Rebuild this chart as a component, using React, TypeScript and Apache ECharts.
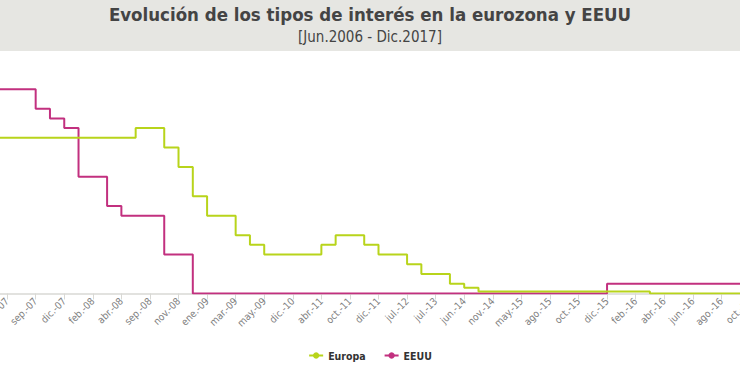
import React, { useEffect, useRef } from "react";
import * as echarts from "echarts";

const categories = [
  "jun.-06", "ago.-06", "oct.-06", "dic.-06", "mar.-07", "jun.-07", "jul.-07", "ago.-07",
  "sep.-07", "oct.-07", "dic.-07", "ene.-08", "feb.-08", "mar.-08", "abr.-08", "jul.-08",
  "sep.-08", "oct.-08", "nov.-08", "dic.-08", "ene.-09", "feb.-09", "mar.-09", "abr.-09",
  "may.-09", "dic.-09", "dic.-10", "feb.-11", "abr.-11", "jul.-11", "oct.-11", "nov.-11",
  "dic.-11", "mar.-12", "jul.-12", "may.-13", "jul.-13", "nov.-13", "jun.-14", "sep.-14",
  "nov.-14", "feb.-15", "may.-15", "jul.-15", "ago.-15", "sep.-15", "oct.-15", "nov.-15",
  "dic.-15", "ene.-16", "feb.-16", "mar.-16", "abr.-16", "may.-16", "jun.-16", "jul.-16",
  "ago.-16", "sep.-16", "oct.-16", "nov.-16", "dic.-16", "ene.-17", "feb.-17", "mar.-17",
  "abr.-17", "may.-17", "jun.-17", "jul.-17", "ago.-17", "sep.-17", "oct.-17", "nov.-17",
  "dic.-17",
];

const europa = [
  2.75, 3.0, 3.25, 3.5, 3.75, 4.0, 4.0, 4.0,
  4.0, 4.0, 4.0, 4.0, 4.0, 4.0, 4.0, 4.25,
  4.25, 3.75, 3.25, 2.5, 2.0, 2.0, 1.5, 1.25,
  1.0, 1.0, 1.0, 1.0, 1.25, 1.5, 1.5, 1.25,
  1.0, 1.0, 0.75, 0.5, 0.5, 0.25, 0.15, 0.05,
  0.05, 0.05, 0.05, 0.05, 0.05, 0.05, 0.05, 0.05,
  0.05, 0.05, 0.05, 0, 0, 0, 0, 0,
  0, 0, 0, 0, 0, 0, 0, 0,
  0, 0, 0, 0, 0, 0, 0, 0,
  0,
];

const eeuu = [
  5.25, 5.25, 5.25, 5.25, 5.25, 5.25, 5.25, 5.25,
  4.75, 4.5, 4.25, 3.0, 3.0, 2.25, 2.0, 2.0,
  2.0, 1.0, 1.0, 0, 0, 0, 0, 0,
  0, 0, 0, 0, 0, 0, 0, 0,
  0, 0, 0, 0, 0, 0, 0, 0,
  0, 0, 0, 0, 0, 0, 0, 0,
  0.25, 0.25, 0.25, 0.25, 0.25, 0.25, 0.25, 0.25,
  0.25, 0.25, 0.25, 0.25, 0.5, 0.5, 0.5, 0.75,
  0.75, 0.75, 1.0, 1.0, 1.0, 1.0, 1.0, 1.0,
  1.25,
];

const TITLE = "Evolución de los tipos de interés en la eurozona y EEUU";
const SUBTITLE = "[Jun.2006 - Dic.2017]";

const FONT = "'Liberation Sans Narrow', 'DejaVu Sans Condensed', 'Open Sans', sans-serif";

// The chart is wider than the window and centred on it; only the middle is seen.
const EXTRA = 212;
const W = 740 + 2 * EXTRA;
const FIRST_SEEN = 6;
const LAST_SEEN = 58;

export default function App() {
  const ref = useRef<HTMLDivElement>(null);
  useEffect(() => {
    if (!ref.current) return;
    const chart = echarts.init(ref.current, null, { renderer: "svg" });
    chart.setOption({
      animation: false,
      graphic: [
        {
          type: "rect",
          shape: { x: 0, y: 0, width: W, height: 51 },
          style: { fill: "#e6e6e2" },
          z: -10,
          silent: true,
        },
      ],
      title: {
        text: TITLE,
        subtext: SUBTITLE,
        left: "center",
        top: 0,
        itemGap: 5,
        textStyle: { fontFamily: FONT, fontSize: 18.5, fontWeight: "bold", color: "#444" },
        subtextStyle: { fontFamily: FONT, fontSize: 15, color: "#444" },
      },
      legend: {
        data: ["Europa", "EEUU"],
        left: "center",
        top: 345,
        itemWidth: 14,
        itemHeight: 8,
        itemGap: 18,
        textStyle: { fontFamily: FONT, fontSize: 10.5, fontWeight: "bold", color: "#333" },
      },
      grid: { left: EXTRA - 78.6, right: W - (EXTRA + 951.6), top: 60, bottom: 95.5, containLabel: false },
      xAxis: {
        type: "category",
        data: categories,
        boundaryGap: false,
        axisLine: { lineStyle: { color: "#d8d8d4", width: 1.5 } },
        axisTick: { interval: 1, length: 6, lineStyle: { color: "#d8d8d4" } },
        axisLabel: {
          interval: 1,
          rotate: 45,
          fontFamily: FONT,
          fontSize: 10,
          color: "#808080",
          margin: 6,
          formatter: (value: string, index: number) =>
            index < FIRST_SEEN || index > LAST_SEEN ? "" : value,
        },
        splitLine: { show: false },
      },
      yAxis: {
        type: "value",
        min: 0,
        max: 6,
        show: false,
        splitLine: { show: false },
      },
      series: [
        {
          name: "EEUU",
          type: "line",
          step: "end",
          data: eeuu,
          symbol: "circle",
          symbolSize: 6,
          showSymbol: false,
          color: "#c2307f",
          lineStyle: { width: 2, color: "#c2307f" },
          z: 2,
        },
        {
          name: "Europa",
          type: "line",
          step: "end",
          data: europa,
          symbol: "circle",
          symbolSize: 6,
          showSymbol: false,
          color: "#b8d41b",
          lineStyle: { width: 2, color: "#b8d41b" },
          z: 3,
        },
      ],
    });
    return () => chart.dispose();
  }, []);
  return (
    <div style={{ position: "absolute", left: 0, top: 0, width: 740, height: 389, overflow: "hidden" }}>
      <div ref={ref} style={{ position: "absolute", left: -EXTRA, top: 0, width: W, height: 389 }} />
    </div>
  );
}
